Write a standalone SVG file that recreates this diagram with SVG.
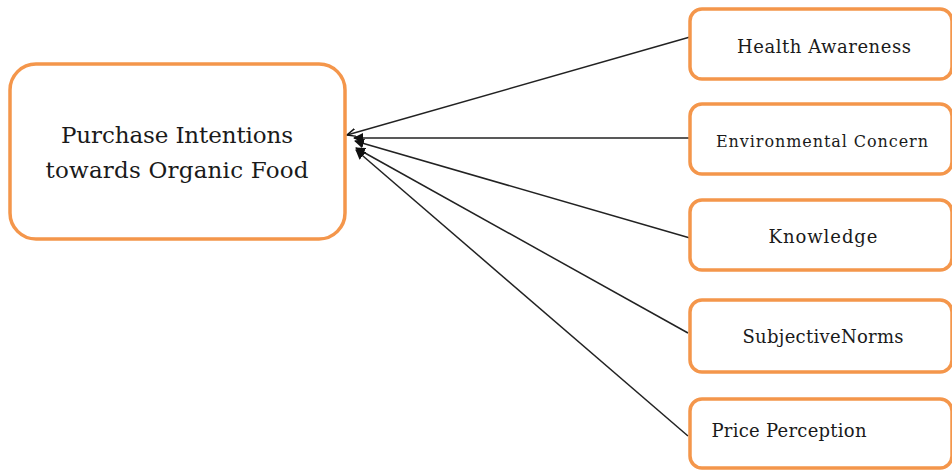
<svg xmlns="http://www.w3.org/2000/svg" width="952" height="471" viewBox="0 0 952 471">
<defs>
<style>
.box{fill:#fff;stroke:#F4964B;stroke-width:3.5}
.t{font-family:"DejaVu Serif","Liberation Serif",serif;fill:#1a1a1a;text-anchor:middle}
.ln{stroke:#222;stroke-width:1.5;fill:none}
</style>
<marker id="fa" viewBox="0 0 10 10" refX="9" refY="5" markerWidth="10" markerHeight="10" markerUnits="userSpaceOnUse" orient="auto">
<path d="M0,0 L10,5 L0,10 Z" fill="#111"/>
</marker>
<marker id="oa" viewBox="0 0 10 10" refX="9" refY="5" markerWidth="10" markerHeight="10" markerUnits="userSpaceOnUse" orient="auto">
<path d="M0,1 L9,5 L0,9" fill="none" stroke="#111" stroke-width="1.5"/>
</marker>
</defs>
<rect width="952" height="471" fill="#fff"/>
<g id="connectors">
<line class="ln" x1="690" y1="37" x2="347" y2="135" marker-end="url(#oa)"/>
<line class="ln" x1="690" y1="138" x2="354" y2="138" marker-end="url(#fa)"/>
<line class="ln" x1="690" y1="238" x2="355" y2="141" marker-end="url(#fa)"/>
<line class="ln" x1="688" y1="333" x2="356" y2="148" marker-end="url(#fa)"/>
<line class="ln" x1="688" y1="436" x2="356" y2="150" marker-end="url(#fa)"/>
</g>
<g id="purchase">
<rect class="box" x="10" y="64" width="335" height="175" rx="26"/>
<text class="t" x="177" y="143" font-size="23" textLength="232">Purchase Intentions</text>
<text class="t" x="177" y="178" font-size="23" textLength="263">towards Organic Food</text>
</g>
<g id="health">
<rect class="box" x="690" y="9" width="262" height="70" rx="12"/>
<text class="t" x="824" y="53" font-size="18" textLength="174">Health Awareness</text>
</g>
<g id="environmental">
<rect class="box" x="690" y="104" width="262" height="70" rx="12"/>
<text class="t" x="822" y="147" font-size="16" textLength="212">Environmental Concern</text>
</g>
<g id="knowledge">
<rect class="box" x="690" y="200" width="262" height="70" rx="12"/>
<text class="t" x="823" y="243" font-size="18" textLength="109">Knowledge</text>
</g>
<g id="subjective">
<rect class="box" x="690" y="300" width="262" height="72" rx="12"/>
<text class="t" x="823" y="343" font-size="18" textLength="161">SubjectiveNorms</text>
</g>
<g id="price">
<rect class="box" x="690" y="399" width="262" height="69" rx="12"/>
<text class="t" x="789" y="437" font-size="18" textLength="155">Price Perception</text>
</g>
</svg>
